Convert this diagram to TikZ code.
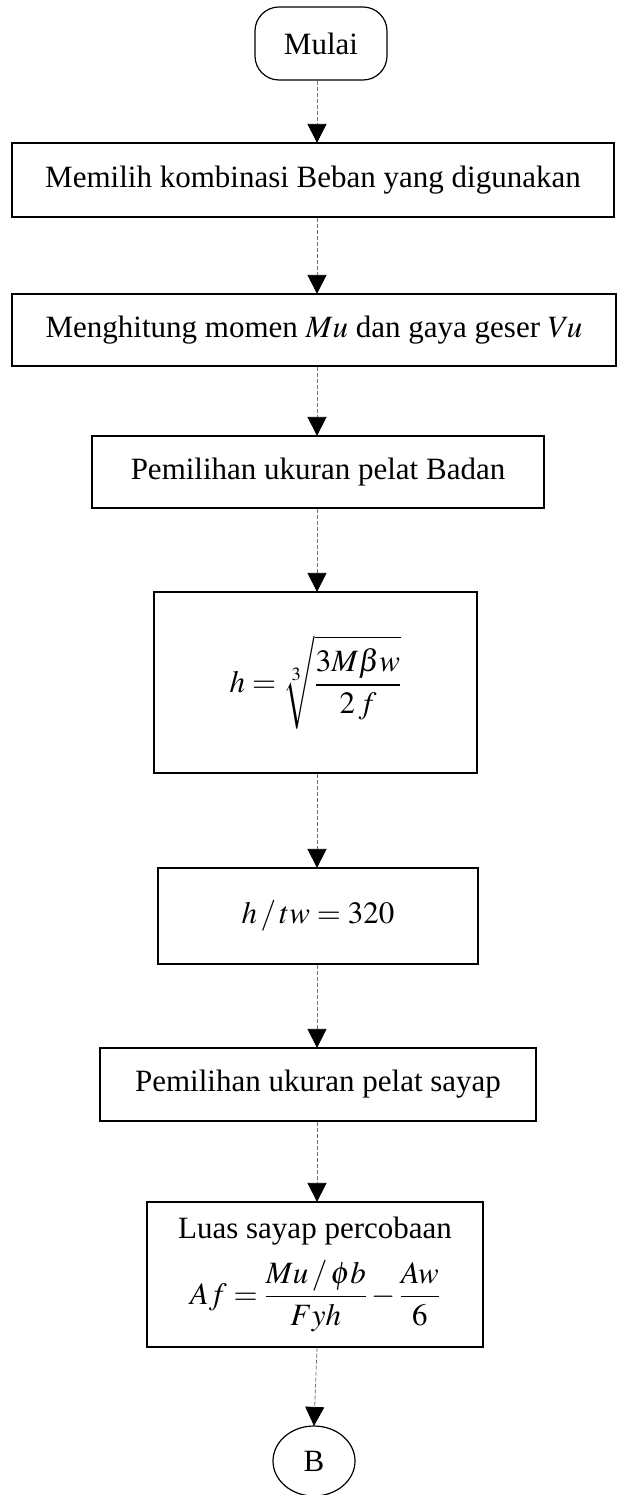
\documentclass[tikz,border=0pt]{standalone}
\usepackage{amsmath}
\usepackage{mathptmx}
\usepackage[no-math]{fontspec}
\setmainfont{Liberation Serif}
\usetikzlibrary{arrows.meta,shapes.geometric}
\tikzset{
  txt/.style={font=\fontsize{31}{37}\selectfont, inner sep=0pt, align=center},
  procbox/.style={txt, draw=black, line width=1.2pt, rectangle},
  termbox/.style={txt, draw=black, line width=1.2pt, rectangle, rounded corners=24pt},
  connbox/.style={txt, draw=black, line width=1.2pt, ellipse},
  conn/.style={draw=black!55, line width=0.8pt, dash pattern=on 4pt off 2pt,
    -{Triangle[width=19pt,length=19pt,color=black]}, shorten >=-0.5pt}
}
\begin{document}
\begin{tikzpicture}[x=1pt,y=-1pt]
\useasboundingbox (0,0) rectangle (617,1495);
\coordinate (spine) at (317,0);
\node[termbox, minimum width=132pt, minimum height=73pt] (mulai) at (321,43.5) {Mulai};
\node[procbox, minimum width=602pt, minimum height=74pt] (b1) at (313,180) {Memilih kombinasi Beban yang digunakan};
\node[procbox, minimum width=604pt, minimum height=72pt] (b2) at (314,330) {Menghitung momen $Mu$ dan gaya geser $Vu$};
\node[procbox, minimum width=452pt, minimum height=72pt] (b3) at (318,472) {Pemilihan ukuran pelat Badan};
\node[procbox, minimum width=323pt, minimum height=181pt] (b4) at (315.5,682.5) {$h=\sqrt[3]{\dfrac{3M\beta w}{2\,f}}$};
\node[procbox, minimum width=320pt, minimum height=96pt] (b5) at (318,916) {$h\,/\,tw = 320$};
\node[procbox, minimum width=436pt, minimum height=73pt] (b6) at (318,1084.5) {Pemilihan ukuran pelat sayap};
\node[procbox, minimum width=336pt, minimum height=145pt] (b7) at (315,1274.5) {Luas sayap percobaan\\[14pt] $Af=\dfrac{Mu\,/\,\phi b}{Fyh}-\dfrac{Aw}{6}$};
\node[connbox, minimum width=82pt, minimum height=70pt] (b8) at (314,1461) {B};
\draw[conn] (mulai.south -| spine) -- (b1.north -| spine);
\draw[conn] (b1.south -| spine) -- (b2.north -| spine);
\draw[conn] (b2.south -| spine) -- (b3.north -| spine);
\draw[conn] (b3.south -| spine) -- (b4.north -| spine);
\draw[conn] (b4.south -| spine) -- (b5.north -| spine);
\draw[conn] (b5.south -| spine) -- (b6.north -| spine);
\draw[conn] (b6.south -| spine) -- (b7.north -| spine);
\draw[conn] (b7.south -| spine) -- (b8.north);
\end{tikzpicture}
\end{document}
